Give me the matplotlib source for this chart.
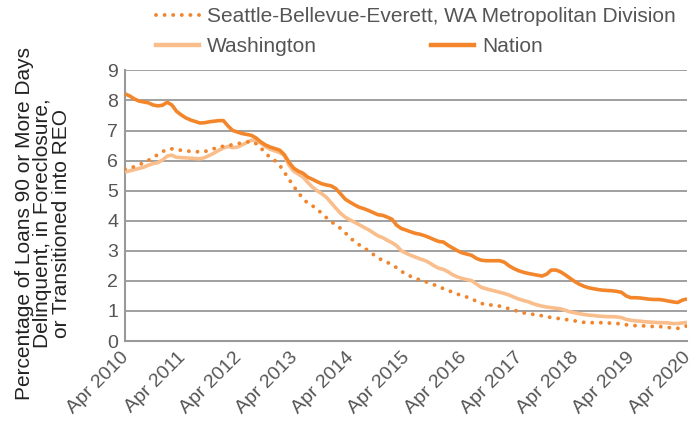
import matplotlib
matplotlib.use("Agg")
import matplotlib.pyplot as plt
from matplotlib.lines import Line2D

# monthly values, Apr 2010 .. Apr 2020 (121 months)
nation = [
    8.22, 8.15, 8.05, 7.98, 7.95, 7.92, 7.85, 7.82, 7.84, 7.94, 7.85, 7.64,
    7.52, 7.42, 7.35, 7.30, 7.25, 7.26, 7.29, 7.31, 7.33, 7.33, 7.15, 7.00,
    6.95, 6.90, 6.87, 6.84, 6.75, 6.62, 6.52, 6.45, 6.40, 6.35, 6.20, 5.95,
    5.75, 5.65, 5.58, 5.45, 5.38, 5.30, 5.23, 5.19, 5.16, 5.07, 4.90, 4.72,
    4.62, 4.53, 4.45, 4.40, 4.34, 4.27, 4.20, 4.18, 4.12, 4.05, 3.85, 3.74,
    3.69, 3.63, 3.58, 3.55, 3.50, 3.44, 3.37, 3.31, 3.29, 3.18, 3.09, 3.00,
    2.93, 2.89, 2.85, 2.75, 2.69, 2.67, 2.67, 2.67, 2.67, 2.62, 2.50, 2.41,
    2.34, 2.29, 2.25, 2.22, 2.19, 2.16, 2.22, 2.36, 2.36, 2.30, 2.20, 2.09,
    1.98, 1.89, 1.82, 1.77, 1.74, 1.71, 1.69, 1.68, 1.67, 1.65, 1.62, 1.50,
    1.44, 1.44, 1.43, 1.41, 1.39, 1.38, 1.38, 1.36, 1.33, 1.30, 1.28, 1.36,
    1.40,
]
washington = [
    5.62, 5.66, 5.70, 5.74, 5.78, 5.85, 5.90, 5.93, 6.02, 6.15, 6.18, 6.11,
    6.10, 6.09, 6.08, 6.07, 6.06, 6.10, 6.17, 6.25, 6.34, 6.42, 6.47, 6.43,
    6.45, 6.52, 6.60, 6.68, 6.66, 6.58, 6.46, 6.38, 6.32, 6.27, 6.17, 5.85,
    5.65, 5.55, 5.45, 5.28, 5.12, 5.00, 4.90, 4.78, 4.60, 4.42, 4.25, 4.12,
    4.03, 3.95, 3.87, 3.78, 3.70, 3.60, 3.50, 3.44, 3.35, 3.27, 3.17, 3.00,
    2.92, 2.85, 2.79, 2.73, 2.68, 2.60, 2.50, 2.42, 2.38, 2.30, 2.20, 2.13,
    2.08, 2.04, 2.01, 1.90, 1.79, 1.74, 1.70, 1.66, 1.62, 1.58, 1.53, 1.46,
    1.40, 1.35, 1.31, 1.25, 1.20, 1.16, 1.13, 1.11, 1.09, 1.07, 1.02, 0.97,
    0.94, 0.91, 0.88, 0.86, 0.85, 0.83, 0.82, 0.81, 0.81, 0.80, 0.78, 0.72,
    0.69, 0.67, 0.66, 0.64, 0.63, 0.62, 0.61, 0.61, 0.60, 0.58, 0.58, 0.60,
    0.62,
]
seattle = [
    5.72, 5.74, 5.80, 5.86, 5.93, 6.01, 6.10, 6.20, 6.30, 6.37, 6.39, 6.38,
    6.34, 6.32, 6.31, 6.30, 6.29, 6.30, 6.35, 6.40, 6.44, 6.48, 6.50, 6.53,
    6.56, 6.59, 6.62, 6.64, 6.56, 6.42, 6.25, 6.10, 6.00, 5.85, 5.62, 5.38,
    5.15, 4.93, 4.75, 4.58, 4.50, 4.38, 4.25, 4.10, 3.98, 3.85, 3.75, 3.60,
    3.45, 3.30, 3.20, 3.10, 3.00, 2.88, 2.77, 2.68, 2.62, 2.52, 2.44, 2.32,
    2.22, 2.15, 2.08, 2.03, 1.98, 1.93, 1.87, 1.81, 1.74, 1.68, 1.62, 1.56,
    1.50, 1.46, 1.41, 1.32, 1.25, 1.22, 1.20, 1.18, 1.16, 1.12, 1.07, 1.03,
    0.98, 0.94, 0.91, 0.89, 0.87, 0.84, 0.81, 0.78, 0.76, 0.74, 0.72, 0.69,
    0.67, 0.64, 0.62, 0.61, 0.61, 0.61, 0.61, 0.60, 0.59, 0.58, 0.57, 0.54,
    0.52, 0.51, 0.51, 0.50, 0.49, 0.48, 0.48, 0.47, 0.45, 0.43, 0.42, 0.47,
    0.50,
]
months = list(range(len(nation)))
years = list(range(2010, 2021))
tick_labels = [f"Apr {y}" for y in years]

plt.rcParams["font.family"] = "Liberation Sans"

fig = plt.figure(figsize=(6.93, 4.40), dpi=100)
ax = fig.add_axes([0.1804, 0.225, 0.811, 0.615])

c_nation = "#F3862B"
c_wa = "#F9BE8C"
c_sea = "#F0852D"
txt = "#555555"

ax.plot(months, washington, color=c_wa, lw=2.6, solid_capstyle="butt", zorder=3)
ax.plot(months, nation, color=c_nation, lw=2.6, solid_capstyle="butt", zorder=4)
ax.plot(months, seattle, color=c_sea, lw=2.8, linestyle=(0, (0.01, 2.2)),
        dash_capstyle="round", zorder=5)

ax.set_xlim(0, 120)
ax.set_ylim(0, 9)
ax.set_yticks(range(0, 10))
ax.set_xticks([12 * i for i in range(len(years))])
ax.set_xticklabels(tick_labels, rotation=45, ha="right", va="center_baseline",
                   rotation_mode="anchor")
ax.tick_params(axis="both", length=0, colors=txt)
ax.tick_params(axis="y", pad=5, labelsize=14)
ax.tick_params(axis="x", pad=9, labelsize=14)

ax.grid(axis="y", color="#999999", lw=1.3)
ax.set_axisbelow(True)
for s in ["top", "right"]:
    ax.spines[s].set_visible(False)
for s in ["left", "bottom"]:
    ax.spines[s].set_color("#999999")
    ax.spines[s].set_linewidth(1.5)

fig.text(43 / 693, 0.492,
         "Percentage of Loans 90 or More Days\nDelinquent, in Foreclosure,\nor Transitioned into REO",
         rotation=90, ha="center", va="center", multialignment="center",
         fontsize=15, color="#222222", linespacing=0.98)

h_sea = Line2D([], [], color=c_sea, lw=2.8, linestyle=(0, (0.01, 2.2)), dash_capstyle="round")
h_wa = Line2D([], [], color=c_wa, lw=3.2)
h_nat = Line2D([], [], color=c_nation, lw=3.2)

leg_kw = dict(loc="center left", frameon=False, fontsize=15, handlelength=2.05,
              handletextpad=0.4, borderpad=0, borderaxespad=0, labelcolor=txt)
leg1 = fig.legend([h_sea], ["Seattle-Bellevue-Everett, WA Metropolitan Division"],
                  bbox_to_anchor=(156 / 693, 1 - 17 / 440), **leg_kw)
leg2 = fig.legend([h_wa], ["Washington"],
                  bbox_to_anchor=(156 / 693, 1 - 47 / 440), **leg_kw)
leg3 = fig.legend([h_nat], ["Nation"],
                  bbox_to_anchor=(431 / 693, 1 - 47 / 440), **leg_kw)

fig.savefig("out.png", dpi=100)
